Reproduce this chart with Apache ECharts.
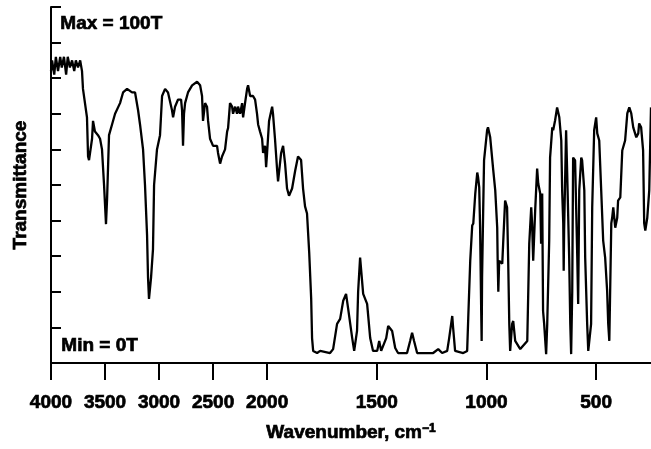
<!DOCTYPE html>
<html>
<head>
<meta charset="utf-8">
<script src="https://cdn.jsdelivr.net/npm/echarts@6/dist/echarts.min.js"></script>
<style>
html,body{margin:0;padding:0;background:#fff;}
#chart{width:651px;height:449px;}
</style>
</head>
<body>
<div id="chart"></div>
<script>
// Wavenumber (cm^-1) and transmittance (%)
const wavenumbers = [
4000,3990,3970,3955,3935,3915,3900,3880,3860,3845,3825,3805,3785,3770,3750,3730,3713,3704,3667,3657,
3648,3620,3611,3593,3565,3546,3528,3509,3491,3481,3463,3435,3407,3361,3333,3296,3278,3250,3222,3194,
3176,3148,3130,3111,3102,3093,3074,3056,3046,3019,2991,2972,2944,2917,2880,2870,2852,2824,2796,2787,
2778,2769,2759,2732,2694,2648,2620,2602,2593,2574,2556,2546,2528,2500,2463,2454,2435,2417,2389,2370,
2361,2343,2324,2315,2296,2278,2269,2250,2231,2222,2204,2185,2176,2157,2130,2111,2093,2083,2065,2046,
2037,2019,2009,2000,1991,1977,1973,1964,1954,1950,1936,1927,1918,1909,1900,1886,1872,1859,1845,1836,
1827,1818,1808,1799,1795,1790,1772,1758,1713,1699,1681,1667,1653,1640,1631,1612,1603,1590,1585,1576,
1562,1544,1530,1517,1498,1489,1480,1471,1457,1448,1430,1416,1403,1362,1348,1339,1330,1316,1243,1220,
1202,1179,1170,1156,1152,1143,1106,1088,1083,1074,1065,1060,1051,1042,1038,1033,1029,1024,1022,1020,
1015,1011,997,993,983,969,960,951,949,946,942,928,924,915,906,901,896,892,883,878,
869,846,814,805,796,792,787,778,769,764,755,751,746,742,737,728,723,714,710,700,
696,687,678,668,659,655,650,648,646,637,632,623,618,614,609,605,596,586,582,577,
568,564,554,550,541,536,523,518,509,500,495,486,477,468,459,450,445,440,431,427,
422,413,404,400,390,381,368,358,349,340,331,317,308,304,295,286,281,276,267,258,
250
];
const transmittance = [
82,85,81,86,82,86,83,86,81,86,83,85,82,85,83,85,82,77,69,58,
57,63,68,65,64,63,60,50,39,46,64,67,70,73,76,77,77,76,76,71,
67,60,50,36,24,18,24,32,50,60,64,75,77,76,71,69,72,74,74,71,
61,70,73,76,78,79,78,75,68,73,72,68,63,61,61,59,56,58,60,65,
66,73,72,70,72,70,72,70,73,69,73,77,78,75,75,74,70,67,65,63,
59,61,55,59,68,72,70,63,54,51,59,61,56,49,47,49,54,58,57,49,
44,42,31,18,7,3.4,2.8,3.4,2.8,3.9,11,12.4,17.5,19.4,15.5,7,3.4,9,20,29.6,
19.4,16.6,7,3.4,3.4,6.2,3.4,3.4,7,10.4,9,4.2,2.8,2.8,6.2,8.5,6.2,2.8,2.8,3.9,
2.8,3.4,7,13.2,9.9,3.4,2.8,3.4,12.7,28.7,38.6,39.2,47.6,53.5,52.1,49.3,38,14.6,6.2,23.9,
42.8,56.9,65.4,66.2,63.4,54.1,48.5,38,29,20,28.7,27.9,33.5,45.6,43.7,28.7,11,3.4,11,11.8,
6.2,3.9,6.2,33.5,43.7,39.2,28.7,42.8,54.6,50.4,47.6,33.5,47.6,14.6,11,2.5,11,34.4,57.7,66.2,
65.4,68.2,71.8,69,62.5,48.5,39.2,25.9,37.2,65.4,53.2,29.6,11,2.5,20.3,57.7,56.9,29.6,16.6,48.5,
57.7,56.9,48.5,29.6,11,3.4,11,43.7,65.4,69,64.5,62.5,48.5,34.4,29.6,20.3,11,6.2,39.2,40.8,
43.7,38,40.8,45.6,46.5,59.7,62.5,70.1,71.8,70.1,66.2,63.4,64.5,67.3,66.2,59.7,39.2,37.2,40.8,48.5,
71.8
];
const xTickLabels = [4000, 3500, 3000, 2500, 2000, 1500, 1000, 500];
const yTicks = [0,10,20,30,40,50,60,70,80,90,100];
const axisEnd = 250;
const maxLabel = 'Max = 100T';
const minLabel = 'Min = 0T';

// Split-scale wavenumber axis: above 2000 cm-1 compressed (about half scale)
const SPLIT = 2000, HIGH_FACTOR = 0.4925;
function toAxis(w) {
  return w >= SPLIT ? (4000 - w) * HIGH_FACTOR : (4000 - SPLIT) * HIGH_FACTOR + (SPLIT - w);
}
function fromAxis(t) {
  const tSplit = (4000 - SPLIT) * HIGH_FACTOR;
  return t <= tSplit ? 4000 - t / HIGH_FACTOR : SPLIT - (t - tSplit);
}

const seriesData = wavenumbers.map((w, i) => [toAxis(w), transmittance[i]]);
const tickPositions = xTickLabels.map(toAxis);
const FONT = "'Liberation Sans', Arial, Helvetica, sans-serif";
const heavy = { textBorderColor: '#000', textBorderWidth: 0.7 };

const chart = echarts.init(document.getElementById('chart'));
chart.setOption({
  animation: false,
  backgroundColor: '#fff',
  grid: { left: 51, right: 0, top: 7, bottom: 86 },
  xAxis: {
    type: 'value',
    min: 0,
    max: toAxis(axisEnd),
    name: 'Wavenumber, cm{sup|−1}',
    nameLocation: 'middle',
    nameGap: 60,
    nameTextStyle: Object.assign({
      fontFamily: FONT, fontWeight: 'bold', fontSize: 19, color: '#000',
      rich: { sup: Object.assign({ fontFamily: FONT, fontWeight: 'bold', fontSize: 12, color: '#000', verticalAlign: 'top', padding: [0,0,8,0] }, heavy) }
    }, heavy),
    axisLine: { show: true, onZero: false, lineStyle: { color: '#000', width: 2 } },
    axisTick: { show: true, inside: false, length: 17, lineStyle: { color: '#000', width: 2 }, customValues: tickPositions },
    axisLabel: Object.assign({
      show: true, customValues: tickPositions, margin: 30,
      fontFamily: FONT, fontWeight: 'bold', fontSize: 19, color: '#000',
      formatter: v => String(Math.round(fromAxis(v) / 10) * 10)
    }, heavy),
    splitLine: { show: false }
  },
  yAxis: {
    type: 'value',
    min: 0, max: 100, interval: 10,
    name: 'Transmittance',
    nameLocation: 'middle',
    nameGap: 21,
    nameTextStyle: Object.assign({ fontFamily: FONT, fontWeight: 'bold', fontSize: 19, color: '#000' }, heavy),
    axisLine: { show: true, lineStyle: { color: '#000', width: 2 } },
    axisTick: { show: true, inside: true, length: 10, lineStyle: { color: '#000', width: 2 }, customValues: yTicks },
    axisLabel: { show: false },
    splitLine: { show: false }
  },
  graphic: [
    { type: 'text', left: 60, top: 14, style: { text: maxLabel, font: "bold 19px 'Liberation Sans', Arial, sans-serif", fill: '#000', stroke: '#000', lineWidth: 0.7 } },
    { type: 'text', left: 61, top: 336, style: { text: minLabel, font: "bold 19px 'Liberation Sans', Arial, sans-serif", fill: '#000', stroke: '#000', lineWidth: 0.7 } }
  ],
  series: [{
    type: 'line',
    data: seriesData,
    showSymbol: false,
    symbol: 'none',
    lineStyle: { color: '#000', width: 2.3 },
    z: 3
  }]
});
</script>
</body>
</html>
